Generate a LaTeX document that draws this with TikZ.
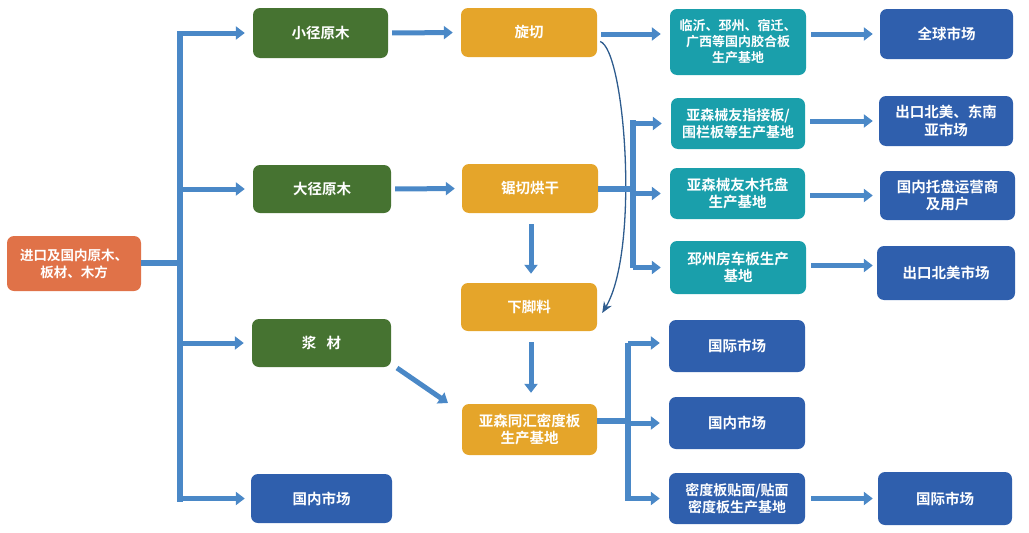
\documentclass[tikz,border=0pt]{standalone}
\usepackage{fontspec}
\setmainfont{Noto Sans CJK SC Bold}
\usetikzlibrary{arrows.meta,calc}
\definecolor{cOrange}{HTML}{E07248}
\definecolor{cGreen}{HTML}{467331}
\definecolor{cYellow}{HTML}{E5A52A}
\definecolor{cTeal}{HTML}{1A9FAB}
\definecolor{cBlue}{HTML}{2F5FAD}
\definecolor{cArrow}{HTML}{4A88C7}
\definecolor{cCurve}{HTML}{2E5C8E}
\tikzset{
  box/.style={rounded corners=7pt, text=white, align=center, font=\fontsize{14.5}{17.5}\selectfont, inner sep=0pt},
  obox/.style={box, fill=cOrange},
  gbox/.style={box, fill=cGreen},
  ybox/.style={box, fill=cYellow},
  tbox/.style={box, fill=cTeal},
  bbox/.style={box, fill=cBlue},
  barline/.style={draw=cArrow, line width=6pt},
  flow/.style={draw=cArrow, line width=5pt, -{Triangle[width=13pt,length=9pt]}},
  curvearrow/.style={draw=cCurve, line width=1.3pt, -{Stealth[width=9pt,length=11pt]}},
}
\begin{document}
\begin{tikzpicture}[x=1pt,y=-1pt]
\useasboundingbox (0,0) rectangle (1029,533);
% nodes
\node[obox, minimum width=134pt, minimum height=55pt, font=\fontsize{13.5}{17}\selectfont] (src) at (74,263.5) {进口及国内原木、\\板材、木方};
\node[gbox, minimum width=135pt, minimum height=50pt] (g1) at (320.5,33) {小径原木};
\node[gbox, minimum width=138pt, minimum height=48pt] (g2) at (322,189) {大径原木};
\node[gbox, minimum width=139pt, minimum height=48pt] (g3) at (321.5,343) {浆\hspace{0.7em}材};
\node[bbox, minimum width=141pt, minimum height=49pt] (m0) at (321.5,498.5) {国内市场};
\node[ybox, minimum width=136pt, minimum height=49pt] (y1) at (529,32.5) {旋切};
\node[ybox, minimum width=136pt, minimum height=49pt] (y2) at (530,188.5) {锯切烘干};
\node[ybox, minimum width=136pt, minimum height=48pt] (y3) at (529,307) {下脚料};
\node[ybox, minimum width=135pt, minimum height=51pt] (y4) at (529.5,429.5) {亚森同汇密度板\\生产基地};
\node[tbox, minimum width=136pt, minimum height=66pt, font=\fontsize{13}{16}\selectfont] (t1) at (738,42) {临沂、邳州、宿迁、\\广西等国内胶合板\\生产基地};
\node[tbox, minimum width=134pt, minimum height=51pt, font=\fontsize{14}{17}\selectfont] (t2) at (738,123.5) {亚森械友指接板/\\围栏板等生产基地};
\node[tbox, minimum width=135pt, minimum height=51pt] (t3) at (737.5,193.5) {亚森械友木托盘\\生产基地};
\node[tbox, minimum width=136pt, minimum height=53pt] (t4) at (738,267.5) {邳州房车板生产\\基地};
\node[bbox, minimum width=133pt, minimum height=50pt] (b1) at (946.5,34) {全球市场};
\node[bbox, minimum width=134pt, minimum height=50pt] (b2) at (946,121) {出口北美、东南\\亚市场};
\node[bbox, minimum width=135pt, minimum height=49pt] (b3) at (947.5,195.5) {国内托盘运营商\\及用户};
\node[bbox, minimum width=138pt, minimum height=54pt] (b4) at (946,273) {出口北美市场};
\node[bbox, minimum width=136pt, minimum height=52pt] (m1) at (737,346) {国际市场};
\node[bbox, minimum width=136pt, minimum height=52pt] (m2) at (737,423) {国内市场};
\node[bbox, minimum width=136pt, minimum height=51pt, font=\fontsize{14}{17}\selectfont] (m3) at (737,498.5) {密度板贴面/贴面\\密度板生产基地};
\node[bbox, minimum width=134pt, minimum height=53pt] (b5) at (945,498.5) {国际市场};
% left trunk
\coordinate (trA) at (180,31);
\coordinate (trB) at (180,502);
\coordinate (trS) at (180,263);
\draw[barline] (src.east |- trS) -- (trS);
\draw[barline] (trA) -- (trB);
\draw[flow, shorten >=8pt] (trA |- g1) -- (g1.west);
\draw[flow, shorten >=8pt] (trA |- g2) -- (g2.west);
\draw[flow, shorten >=8pt] (trA |- g3) -- (g3.west);
\draw[flow, shorten >=6pt] (trA |- m0) -- (m0.west);
% green -> yellow
\draw[flow, shorten <=4pt, shorten >=8pt] (g1.east) -- (y1.west);
\draw[flow, shorten <=4pt, shorten >=7pt] (g2.east) -- (y2.west);
\coordinate (dgA) at (397,368);
\coordinate (dgB) at (448,403);
\draw[flow] (dgA) -- (dgB);
% verticals
\draw[flow, shorten <=11pt, shorten >=9pt] ([xshift=1pt]y2.south) -- ([xshift=2pt]y3.north);
\draw[flow, shorten <=11pt, shorten >=11pt] ([xshift=2pt]y3.south) -- ([xshift=1.5pt]y4.north);
% curve
\coordinate (cvA) at ($(y1.east)+(3,9)$);
\coordinate (cvB) at ($(y3.east)+(5,6)$);
\draw[curvearrow] (cvA) .. controls (625,50) and (640,250) .. (cvB);
% yellow -> teal
\draw[flow, shorten <=4pt, shorten >=9pt] (y1.east |- t1.center) ++(0,-8) coordinate (ya) -- (t1.west |- ya);
\coordinate (brA) at (633,120);
\coordinate (brB) at (633,268);
\draw[barline] (y2.east) -- (brA |- y2.east);
\draw[barline] (brA) -- (brB);
\draw[flow, shorten >=9pt] (brA |- t2) -- (t2.west);
\draw[flow, shorten >=9pt] (brA |- t3) -- (t3.west);
\draw[flow, shorten >=9pt] (brA |- t4) -- (t4.west);
% teal -> blue
\draw[flow, shorten <=5pt, shorten >=7pt] (t1.east |- b1) -- (b1.west);
\draw[flow, shorten <=5pt, shorten >=6pt] (t2.east |- b2) -- (b2.west);
\draw[flow, shorten <=5pt, shorten >=7pt] (t3.east |- b3) -- (b3.west);
\draw[flow, shorten <=5pt, shorten >=4pt] ($(t4.east)+(0,-2)$) coordinate (tb4) -- (b4.west |- tb4);
% bottom branch
\coordinate (bbA) at (628,343);
\coordinate (bbB) at (628,501);
\draw[barline] ($(y4.east)+(0,-9)$) coordinate (y4e) -- (bbA |- y4e);
\draw[barline] (bbA) -- (bbB);
\draw[flow, shorten >=9pt] (bbA) -- (m1.west |- bbA);
\draw[flow, shorten >=9pt] (bbA |- m2) -- (m2.west);
\draw[flow, shorten >=9pt] (bbA |- m3) -- (m3.west);
\draw[flow, shorten <=6pt, shorten >=5pt] (m3.east) -- (b5.west);
\end{tikzpicture}
\end{document}
